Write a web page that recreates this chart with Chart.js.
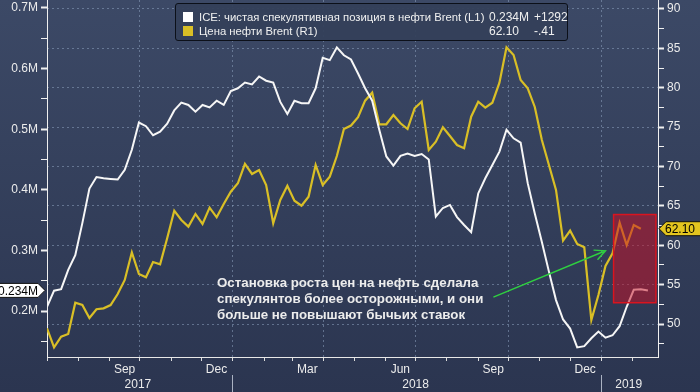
<!DOCTYPE html>
<html>
<head>
<meta charset="utf-8">
<script src="https://cdn.jsdelivr.net/npm/chart.js@4.4.1/dist/chart.umd.min.js"></script>
<style>
  html, body { margin: 0; padding: 0; }
  body {
    width: 700px; height: 392px; overflow: hidden;
    background: linear-gradient(#3c4966, #2b3550);
    font-family: "Liberation Sans", Arial, sans-serif;
  }
  #wrap { position: relative; width: 700px; height: 392px; }
  #chart { position: absolute; left: 0; top: 0; }
  .legend {
    position: absolute; left: 175px; top: 3px; width: 393px; height: 38px;
    box-sizing: border-box; border: 1px solid #0c1019; border-radius: 3px;
    background: rgba(52, 64, 90, 0.95); color: #f0f0f0; font-size: 11.3px;
  }
  .legend .row { position: absolute; left: 7px; height: 14px; line-height: 14px; white-space: nowrap; }
  .legend .sw { position: absolute; left: 0; top: 2px; width: 10px; height: 10px; }
  .legend .name { position: absolute; left: 16px; }
  .legend .val { position: absolute; left: 306px; font-size: 12px; }
  .legend .chg { position: absolute; left: 351px; font-size: 12px; }
  .note {
    position: absolute; left: 217px; top: 275px; color: #ececec;
    font-weight: bold; font-size: 13.3px; line-height: 16px; white-space: nowrap;
  }
</style>
</head>
<body>
<div id="wrap">
  <canvas id="chart" width="700" height="392"></canvas>
  <div class="legend">
    <div class="row" style="top:6px">
      <span class="sw" style="background:#ffffff"></span>
      <span class="name">ICE: чистая спекулятивная позиция в нефти Brent (L1)</span>
      <span class="val">0.234M</span><span class="chg">+1292</span>
    </div>
    <div class="row" style="top:20px">
      <span class="sw" style="background:#d9bf26"></span>
      <span class="name">Цена нефти Brent (R1)</span>
      <span class="val">62.10</span><span class="chg">-.41</span>
    </div>
  </div>
  <div class="note">Остановка роста цен на нефть сделала<br>спекулянтов более осторожными, и они<br>больше не повышают бычьих ставок</div>
</div>
<script>
// weekly observations from early July 2017, x = days since 1 Jul 2017
const icePosition = [
  0.207, 0.2335, 0.236, 0.268, 0.292, 0.345, 0.402, 0.421, 0.419, 0.418,
  0.417, 0.433, 0.466, 0.511, 0.505, 0.490, 0.496, 0.509, 0.531, 0.544,
  0.540, 0.529, 0.540, 0.536, 0.547, 0.540, 0.563, 0.5675, 0.577, 0.574,
  0.587, 0.580, 0.577, 0.545, 0.525, 0.547, 0.543, 0.543, 0.5675, 0.618,
  0.614, 0.635, 0.622, 0.615, 0.592, 0.5675, 0.547, 0.499, 0.455, 0.440,
  0.456, 0.460, 0.456, 0.459, 0.450, 0.356, 0.370, 0.375, 0.355, 0.342,
  0.330, 0.394, 0.419, 0.441, 0.463, 0.499, 0.485, 0.478, 0.411, 0.361,
  0.314, 0.265, 0.218, 0.186, 0.171, 0.140, 0.142, 0.155, 0.166, 0.156,
  0.160, 0.175, 0.207, 0.235, 0.236, 0.234
];
const brentPrice = [
  49.45, 47.04, 48.39, 48.73, 52.70, 52.41, 50.76, 51.87, 51.99, 52.41,
  53.81, 55.59, 59.10, 56.35, 55.93, 57.87, 57.58, 60.88, 64.39, 63.21,
  62.36, 63.97, 62.70, 64.77, 63.55, 65.24, 66.80, 67.87, 70.32, 69.05,
  69.56, 67.65, 62.79, 65.75, 67.56, 65.66, 65.02, 66.17, 70.19, 67.65,
  68.70, 71.33, 74.76, 75.20, 76.25, 78.36, 79.37, 75.36, 75.36, 76.54,
  75.49, 74.76, 77.39, 78.23, 72.10, 73.15, 74.98, 73.87, 72.73, 72.31,
  76.32, 78.23, 77.47, 78.10, 80.64, 85.14, 84.16, 80.98, 79.93, 77.56,
  73.37, 70.19, 67.02, 60.58, 61.85, 60.16, 59.74, 50.51, 53.68, 57.37,
  58.98, 62.86, 60.03, 62.57, 62.10
];
const weekDays = icePosition.map((v, i) => i * 7);

const monthStarts = [0, 31, 62, 92, 123, 153, 184, 215, 243, 274, 304, 335, 365, 396, 427, 457, 488, 518, 549, 580];
const monthNames = ['Jul', 'Aug', 'Sep', 'Oct', 'Nov', 'Dec', 'Jan', 'Feb', 'Mar', 'Apr', 'May', 'Jun',
                    'Jul', 'Aug', 'Sep', 'Oct', 'Nov', 'Dec', 'Jan', 'Feb'];
const shownMonths = ['Sep', 'Dec', 'Mar', 'Jun'];
const quarterStarts = [92, 184, 274, 365, 457, 549];
const yearLabels = ['2017', '2018', '2019'];
const yearCenters = [90, 365, 576];
const yearStarts = [184, 549];

const leftTicks = [0.15, 0.2, 0.25, 0.3, 0.35, 0.4, 0.45, 0.5, 0.55, 0.6, 0.65, 0.7];
const leftMajor = [0.2, 0.3, 0.4, 0.5, 0.6, 0.7];
const leftLabels = ['0.2M', '0.3M', '0.4M', '0.5M', '0.6M', '0.7M'];
const rightTicks = [47.5, 50, 52.5, 55, 57.5, 60, 62.5, 65, 67.5, 70, 72.5, 75, 77.5, 80, 82.5, 85, 87.5, 90];
const rightMajor = [50, 55, 60, 65, 70, 75, 80, 85, 90];

// highlight box and arrow, in data units (days, Brent price)
const boxDays = [561, 603];
const boxPrice = [52.7, 63.9];
const arrowFrom = [442, 53.4];
const arrowTo = [553, 59.3];

const FONT = '"Liberation Sans", Arial, sans-serif';
const TXT = '#ececec';
const GRID = 'rgba(140, 160, 190, 0.55)';
const near = (list, v) => list.findIndex(m => Math.abs(m - v) < 1e-6);

function tag(ctx, text, y, left, right, tipX, fill, stroke) {
  ctx.save();
  ctx.beginPath();
  if (tipX > right) {
    ctx.moveTo(left, y - 7); ctx.lineTo(right, y - 7); ctx.lineTo(tipX, y);
    ctx.lineTo(right, y + 7); ctx.lineTo(left, y + 7);
  } else {
    ctx.moveTo(right, y - 7); ctx.lineTo(left, y - 7); ctx.lineTo(tipX, y);
    ctx.lineTo(left, y + 7); ctx.lineTo(right, y + 7);
  }
  ctx.closePath();
  ctx.fillStyle = fill; ctx.fill();
  ctx.strokeStyle = stroke; ctx.lineWidth = 1; ctx.stroke();
  ctx.fillStyle = '#000';
  ctx.font = '12px ' + FONT;
  ctx.textBaseline = 'middle';
  if (tipX > right) { ctx.textAlign = 'right'; ctx.fillText(text, right, y + 1); }
  else { ctx.textAlign = 'left'; ctx.fillText(text, left - 1, y + 1); }
  ctx.restore();
}

const decor = {
  id: 'decor',
  afterDatasetsDraw(chart) {
    const {ctx, scales: {x, yR}} = chart;
    // red highlight box
    const bx1 = x.getPixelForValue(boxDays[0]), bx2 = x.getPixelForValue(boxDays[1]);
    const by1 = yR.getPixelForValue(boxPrice[1]), by2 = yR.getPixelForValue(boxPrice[0]);
    ctx.save();
    ctx.fillStyle = 'rgba(200, 18, 38, 0.52)';
    ctx.fillRect(bx1, by1, bx2 - bx1, by2 - by1);
    ctx.strokeStyle = '#d9141f';
    ctx.lineWidth = 1.5;
    ctx.strokeRect(bx1, by1, bx2 - bx1, by2 - by1);
    // green arrow
    const ax1 = x.getPixelForValue(arrowFrom[0]), ay1 = yR.getPixelForValue(arrowFrom[1]);
    const ax2 = x.getPixelForValue(arrowTo[0]), ay2 = yR.getPixelForValue(arrowTo[1]);
    const ang = Math.atan2(ay2 - ay1, ax2 - ax1);
    ctx.strokeStyle = '#2fd040';
    ctx.lineWidth = 1.4;
    ctx.beginPath();
    ctx.moveTo(ax1, ay1); ctx.lineTo(ax2, ay2);
    ctx.moveTo(ax2 - 12 * Math.cos(ang - 0.45), ay2 - 12 * Math.sin(ang - 0.45));
    ctx.lineTo(ax2, ay2);
    ctx.lineTo(ax2 - 12 * Math.cos(ang + 0.45), ay2 - 12 * Math.sin(ang + 0.45));
    ctx.stroke();
    ctx.restore();
  },
  afterDraw(chart) {
    const {ctx, scales: {yL, yR}} = chart;
    const lastIce = icePosition[icePosition.length - 1];
    const lastBrent = brentPrice[brentPrice.length - 1];
    tag(ctx, lastIce.toFixed(3) + 'M', yL.getPixelForValue(lastIce), -2, 38, 45, '#ffffff', '#111');
    tag(ctx, lastBrent.toFixed(2), yR.getPixelForValue(lastBrent), 666, 702, 659, '#e3c51f', '#111');
  }
};

new Chart(document.getElementById('chart').getContext('2d'), {
  type: 'line',
  data: {
    datasets: [
      {
        label: 'ICE: чистая спекулятивная позиция в нефти Brent (L1)',
        data: icePosition.map((v, i) => ({x: weekDays[i], y: v})),
        yAxisID: 'yL', xAxisID: 'x',
        borderColor: '#f6f6f6', borderWidth: 2, pointRadius: 0, tension: 0
      },
      {
        label: 'Цена нефти Brent (R1)',
        data: brentPrice.map((v, i) => ({x: weekDays[i], y: v})),
        yAxisID: 'yR', xAxisID: 'x',
        borderColor: '#d9bf26', borderWidth: 2.2, pointRadius: 0, tension: 0
      }
    ]
  },
  options: {
    responsive: false,
    animation: false,
    events: [],
    layout: {padding: 0},
    plugins: {legend: {display: false}, tooltip: {enabled: false}},
    scales: {
      x: {
        type: 'linear', position: 'bottom', weight: 0, min: 0, max: 605,
        afterBuildTicks: s => { s.ticks = monthStarts.map(v => ({value: v})); },
        afterFit: s => { s.height = 18; s.paddingLeft = 0; s.paddingRight = 0; },
        ticks: {
          autoSkip: false, maxRotation: 0, minRotation: 0, padding: 1, labelOffset: 15,
          color: TXT, font: {family: FONT, size: 12},
          callback: (v, i) => shownMonths.includes(monthNames[i]) ? monthNames[i] : ''
        },
        grid: {
          drawOnChartArea: true, tickLength: 4, tickColor: '#dcdcdc',
          color: c => (c.tick && quarterStarts.includes(c.tick.value)) ? GRID : 'rgba(0,0,0,0)'
        },
        border: {color: '#e8e8e8', width: 1, dash: [2, 3]}
      },
      year: {
        type: 'linear', position: 'bottom', weight: 1, min: 0, max: 605,
        afterBuildTicks: s => {
          s.ticks = yearCenters.concat(yearStarts).sort((a, b) => a - b).map(v => ({value: v}));
        },
        afterFit: s => { s.height = 17; s.paddingLeft = 0; s.paddingRight = 0; },
        ticks: {
          autoSkip: false, maxRotation: 0, minRotation: 0, padding: -17,
          color: TXT, font: {family: FONT, size: 12},
          callback: v => { const k = yearCenters.indexOf(v); return k >= 0 ? yearLabels[k] : ''; }
        },
        grid: {
          drawOnChartArea: false, tickLength: 19,
          tickColor: c => (c.tick && yearStarts.includes(c.tick.value)) ? '#aab2c2' : 'rgba(0,0,0,0)'
        },
        border: {display: false}
      },
      yL: {
        type: 'linear', position: 'left', min: 0.1241, max: 0.7132,
        afterBuildTicks: s => { s.ticks = leftTicks.map(v => ({value: v})); },
        afterFit: s => { s.width = 47; s.paddingTop = 0; s.paddingBottom = 0; },
        ticks: {
          padding: 3, color: TXT, font: {family: FONT, size: 12},
          callback: v => { const k = near(leftMajor, v); return k >= 0 ? leftLabels[k] : ''; }
        },
        grid: {
          drawOnChartArea: false, tickLength: 6, tickColor: '#f0f0f0',
          tickWidth: c => (c.tick && near(leftMajor, c.tick.value) >= 0) ? 2 : 1
        },
        border: {color: '#f0f0f0', width: 1}
      },
      yR: {
        type: 'linear', position: 'right', min: 45.81, max: 91.14,
        afterBuildTicks: s => { s.ticks = rightTicks.map(v => ({value: v})); },
        afterFit: s => { s.width = 42; s.paddingTop = 0; s.paddingBottom = 0; },
        ticks: {
          padding: 3, color: TXT, font: {family: FONT, size: 12},
          callback: v => near(rightMajor, v) >= 0 ? String(v) : ''
        },
        grid: {
          drawOnChartArea: true, tickLength: 6, tickColor: '#f0f0f0',
          tickWidth: c => (c.tick && near(rightMajor, c.tick.value) >= 0) ? 2 : 1,
          color: c => (c.tick && near(rightMajor, c.tick.value) >= 0) ? GRID : 'rgba(0,0,0,0)'
        },
        border: {color: '#f0f0f0', width: 1, dash: [2, 3]}
      }
    }
  },
  plugins: [decor]
});
</script>
</body>
</html>
